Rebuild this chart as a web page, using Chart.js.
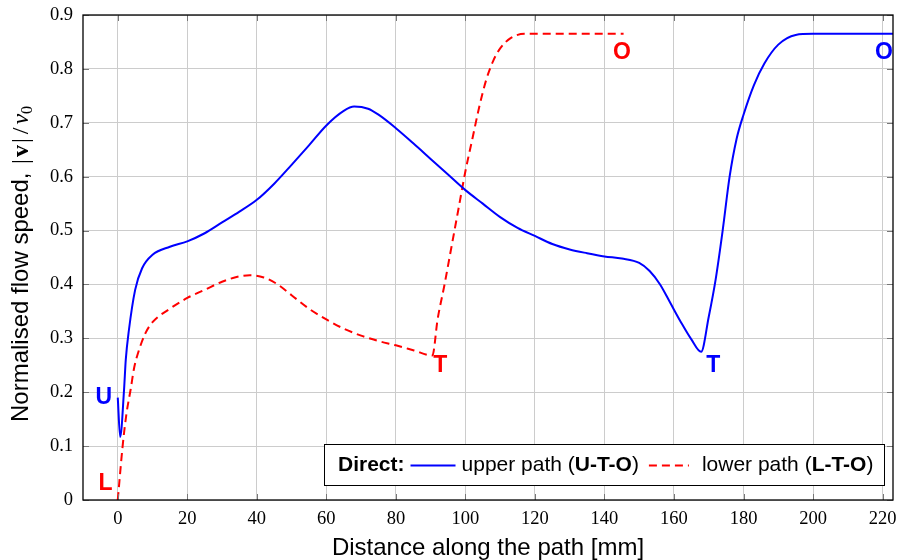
<!DOCTYPE html>
<html>
<head>
<meta charset="utf-8">
<script src="https://cdn.jsdelivr.net/npm/chart.js@4.4.0/dist/chart.umd.min.js"></script>
<style>
  body { margin: 0; background: #fff; }
  #wrap { width: 899px; height: 560px; }
</style>
</head>
<body>
<div id="wrap"><canvas id="myChart" width="899" height="560"></canvas></div>
<script>
// upper path (U-T-O)
var upperX = [0, 0.7, 1.8, 2.3, 3.2, 5, 7, 10, 15, 20, 25, 30, 35, 40, 45, 50, 55, 60, 65, 68, 72, 75, 80, 85, 90, 95, 100,
  105, 110, 115, 120, 125, 130, 135, 140, 145, 150, 153, 156, 159, 162, 165, 167.8, 170, 172, 174, 176, 178, 180, 183, 186, 190, 195, 200, 223];
var upperY = [0.19, 0.117, 0.204, 0.26, 0.315, 0.39, 0.43, 0.455, 0.47, 0.48, 0.495, 0.515, 0.535, 0.557, 0.587, 0.622, 0.658, 0.695, 0.722, 0.73, 0.726, 0.715, 0.69, 0.662, 0.633, 0.604, 0.575,
  0.55, 0.525, 0.505, 0.49, 0.475, 0.465, 0.458, 0.452, 0.448, 0.44, 0.425, 0.4, 0.365, 0.33, 0.298, 0.275, 0.34, 0.41, 0.5, 0.6, 0.67, 0.715, 0.77, 0.81, 0.845, 0.863, 0.865, 0.865];

// lower path (L-T-O)
var lowerX = [0, 1.4, 2.5, 3.7, 4.7, 5.7, 8, 10, 15, 20, 25, 30, 35, 38, 42, 46, 50, 55, 60, 65, 70, 75, 80, 85, 90.5,
  92, 94, 96, 98, 100, 102, 104, 106, 108, 110, 113, 117, 145.5];
var lowerY = [0, 0.1, 0.16, 0.205, 0.245, 0.27, 0.31, 0.33, 0.355, 0.375, 0.39, 0.405, 0.415, 0.417, 0.413, 0.4, 0.38, 0.355, 0.335, 0.318, 0.305, 0.295, 0.287, 0.278, 0.268,
  0.335, 0.4, 0.47, 0.54, 0.61, 0.67, 0.73, 0.78, 0.815, 0.838, 0.857, 0.865, 0.865];

// point labels
var markText = ['U', 'L', 'T', 'O', 'T', 'O'];
var markX = [-4, -3.5, 92.8, 145, 171.3, 220.4];
var markY = [0.19, 0.03, 0.249, 0.831, 0.249, 0.831];
var markColor = ['#0000ff', '#ff0000', '#ff0000', '#ff0000', '#0000ff', '#0000ff'];

var xTicks = [0, 20, 40, 60, 80, 100, 120, 140, 160, 180, 200, 220];

function toPoints(xs, ys) {
  return xs.map(function (x, i) { return { x: x, y: ys[i] }; });
}

var extras = {
  id: 'extras',
  afterDatasetsDraw: function (chart) {
    var ctx = chart.ctx;
    var a = chart.chartArea;
    var xs = chart.scales.x, ys = chart.scales.y;
    ctx.save();

    // inner tick marks
    ctx.strokeStyle = '#777';
    ctx.lineWidth = 1;
    xTicks.forEach(function (t) {
      var px = Math.round(xs.getPixelForValue(t)) + 0.5;
      ctx.beginPath();
      ctx.moveTo(px, a.top); ctx.lineTo(px, a.top + 6);
      ctx.moveTo(px, a.bottom); ctx.lineTo(px, a.bottom - 6);
      ctx.stroke();
    });
    for (var v = 0; v <= 0.9001; v += 0.1) {
      var py = Math.round(ys.getPixelForValue(v)) + 0.5;
      ctx.beginPath();
      ctx.moveTo(a.left, py); ctx.lineTo(a.left + 6, py);
      ctx.moveTo(a.right, py); ctx.lineTo(a.right - 6, py);
      ctx.stroke();
    }

    // frame
    ctx.strokeStyle = '#000';
    ctx.lineWidth = 1.3;
    ctx.strokeRect(a.left, a.top, a.right - a.left, a.bottom - a.top);

    // path letters
    ctx.font = 'bold 23px "Liberation Sans"';
    ctx.textAlign = 'center';
    ctx.textBaseline = 'middle';
    markText.forEach(function (t, i) {
      ctx.fillStyle = markColor[i];
      ctx.fillText(t, xs.getPixelForValue(markX[i]), ys.getPixelForValue(markY[i]));
    });

    // legend box
    var lx = 324, ly = 444, lw = 560, lh = 41;
    ctx.fillStyle = '#fff';
    ctx.fillRect(lx, ly, lw, lh);
    ctx.strokeStyle = '#000';
    ctx.lineWidth = 1;
    ctx.strokeRect(lx + 0.5, ly + 0.5, lw, lh);
    ctx.textAlign = 'left';
    ctx.fillStyle = '#000';
    var cy = ly + lh / 2 + 1;
    var cx = lx + 14;
    function seg(txt, bold) {
      ctx.font = (bold ? 'bold ' : '') + '21px "Liberation Sans"';
      ctx.fillText(txt, cx, cy);
      cx += ctx.measureText(txt).width;
    }
    seg('Direct:', true);
    cx += 6;
    ctx.strokeStyle = '#0000ff'; ctx.lineWidth = 2; ctx.setLineDash([]);
    ctx.beginPath(); ctx.moveTo(cx, cy); ctx.lineTo(cx + 45, cy); ctx.stroke();
    cx += 51;
    seg('upper path (', false); seg('U-T-O', true); seg(')', false);
    cx += 10;
    ctx.strokeStyle = '#ff0000'; ctx.setLineDash([8, 5]);
    ctx.beginPath(); ctx.moveTo(cx, cy); ctx.lineTo(cx + 40, cy); ctx.stroke();
    ctx.setLineDash([]);
    cx += 53;
    seg('lower path (', false); seg('L-T-O', true); seg(')', false);

    // y axis title
    ctx.save();
    ctx.translate(28, 422);
    ctx.rotate(-Math.PI / 2);
    ctx.textBaseline = 'alphabetic';
    ctx.fillStyle = '#000';
    var tx = 0;
    function yseg(txt, font, gap, dy) {
      ctx.font = font;
      ctx.fillText(txt, tx, dy || 0);
      tx += ctx.measureText(txt).width + (gap || 0);
    }
    yseg('Normalised flow speed, ', '24px "Liberation Sans"', 2);
    yseg('|', '24px "Liberation Serif"', 2);
    yseg('v', 'bold 24px "Liberation Serif"', 2);
    yseg('|', '24px "Liberation Serif"', 4);
    yseg('/', '24px "Liberation Serif"', 3);
    yseg('v', 'italic 24px "Liberation Serif"', 0);
    yseg('0', '16px "Liberation Serif"', 0, 4);
    ctx.restore();

    ctx.restore();
  }
};

var ctx = document.getElementById('myChart').getContext('2d');
var chart = new Chart(ctx, {
  type: 'line',
  data: {
    datasets: [{
      label: 'upper path (U-T-O)',
      data: toPoints(upperX, upperY),
      borderColor: '#0000ff',
      borderWidth: 2,
      pointRadius: 0,
      cubicInterpolationMode: 'monotone',
      fill: false
    }, {
      label: 'lower path (L-T-O)',
      data: toPoints(lowerX, lowerY),
      borderColor: '#ff0000',
      borderWidth: 2,
      borderDash: [8, 5],
      pointRadius: 0,
      cubicInterpolationMode: 'monotone',
      fill: false
    }]
  },
  options: {
    responsive: false,
    animation: false,
    layout: { padding: { left: 0, right: 6, top: 15, bottom: 0 } },
    plugins: {
      legend: { display: false },
      tooltip: { enabled: false }
    },
    scales: {
      x: {
        type: 'linear',
        min: -10,
        max: 223,
        afterBuildTicks: function (s) { s.ticks = xTicks.map(function (v) { return { value: v }; }); },
        afterFit: function (s) { s.height = 60; s.paddingLeft = 0; s.paddingRight = 0; },
        grid: { color: '#cccccc', lineWidth: 1, drawTicks: false },
        border: { display: false },
        ticks: {
          padding: 8,
          color: '#000',
          font: { family: 'Liberation Serif', size: 18.5 },
          maxRotation: 0
        },
        title: {
          display: true,
          text: 'Distance along the path [mm]',
          color: '#000',
          font: { family: 'Liberation Sans', size: 24 },
          padding: { top: 4, bottom: -3 }
        }
      },
      y: {
        min: 0,
        max: 0.9,
        afterFit: function (s) { s.width = 83; s.paddingTop = 0; s.paddingBottom = 0; },
        grid: { color: '#cccccc', lineWidth: 1, drawTicks: false },
        border: { display: false },
        ticks: {
          stepSize: 0.1,
          padding: 10,
          color: '#000',
          font: { family: 'Liberation Serif', size: 18.5 },
          callback: function (v) { return Math.round(v * 10) === 0 ? '0' : (Math.round(v * 10) / 10).toString(); }
        }
      }
    }
  },
  plugins: [extras]
});
</script>
</body>
</html>
